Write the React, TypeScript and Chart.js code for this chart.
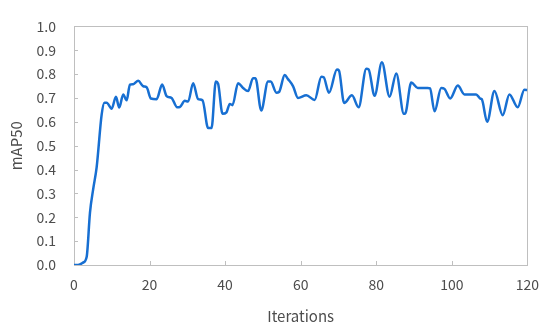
import React, { useEffect, useRef } from "react";
import { Chart, registerables } from "chart.js";

Chart.register(...registerables);

const iterations: number[] = [
  0, 1.06, 2.38, 3.36, 4.23, 5.1, 6.0, 7.32, 8.06, 8.64, 9.97, 11.1, 11.97, 13.03, 13.93,
  14.8, 15.68, 17.0, 18.32, 19.22, 20.35, 21.86, 23.34, 24.5, 25.83, 27.31, 28.02, 29.34,
  30.21, 31.54, 32.86, 34.02, 35.5, 36.4, 37.54, 38.14, 39.31, 40.36, 41.24, 41.95, 43.43,
  44.75, 46.07, 47.4, 48.03, 49.56, 51.36, 52.07, 53.58, 54.27, 55.78, 56.65, 57.97, 59.29,
  61.51, 63.71, 65.48, 66.09, 67.49, 69.6, 70.13, 71.5, 73.57, 75.34, 77.37, 77.98, 79.57,
  81.5, 83.53, 85.3, 87.31, 87.63, 89.27, 91.01, 93.58, 94.24, 95.43, 97.2, 98.07, 99.58,
  101.59, 103.36, 106.45, 107.58, 107.93, 109.36, 111.29, 113.48, 115.25, 117.45, 119.22, 120,
];

const mAP50: number[] = [
  0, 0, 0.01, 0.035, 0.22, 0.32, 0.41, 0.63, 0.68, 0.68, 0.655, 0.705, 0.66, 0.715, 0.69,
  0.756, 0.758, 0.772, 0.749, 0.745, 0.698, 0.695, 0.756, 0.708, 0.7, 0.661, 0.662, 0.688,
  0.685, 0.762, 0.695, 0.69, 0.574, 0.574, 0.769, 0.76, 0.634, 0.64, 0.675, 0.67, 0.762,
  0.742, 0.729, 0.783, 0.783, 0.648, 0.769, 0.769, 0.722, 0.725, 0.796, 0.779, 0.75, 0.7,
  0.711, 0.692, 0.789, 0.787, 0.722, 0.819, 0.815, 0.679, 0.711, 0.661, 0.823, 0.82, 0.709,
  0.85, 0.705, 0.803, 0.634, 0.634, 0.765, 0.742, 0.742, 0.74, 0.644, 0.742, 0.738, 0.698,
  0.752, 0.715, 0.715, 0.697, 0.695, 0.6, 0.729, 0.628, 0.715, 0.661, 0.735, 0.733,
];

const xTitle = "Iterations";
const yTitle = "mAP50";

const FONT = "'Noto Sans CJK SC', 'Noto Sans', sans-serif";
const FRAME = "#bfbfbf";
const TEXT = "#4d4d4d";
const LINE = "#176fd2";

const framePlugin = {
  id: "frame",
  beforeDatasetsDraw(chart: any) {
    const { ctx, chartArea, scales } = chart;
    const { left, top, right, bottom } = chartArea;
    ctx.save();
    ctx.strokeStyle = FRAME;
    ctx.lineWidth = 1;
    ctx.strokeRect(Math.round(left) + 0.5, Math.round(top) + 0.5, Math.round(right - left), Math.round(bottom - top));
    ctx.beginPath();
    scales.x.ticks.forEach((t: any) => {
      const px = Math.round(scales.x.getPixelForValue(t.value)) + 0.5;
      ctx.moveTo(px, bottom);
      ctx.lineTo(px, bottom - 4);
    });
    scales.y.ticks.forEach((t: any) => {
      const py = Math.round(scales.y.getPixelForValue(t.value)) + 0.5;
      ctx.moveTo(left, py);
      ctx.lineTo(left + 4, py);
    });
    ctx.stroke();
    ctx.restore();
  },
};

export default function App() {
  const ref = useRef<HTMLCanvasElement | null>(null);

  useEffect(() => {
    document.body.style.margin = "0";
    const canvas = ref.current;
    if (!canvas) return;
    const chart = new Chart(canvas, {
      type: "line",
      data: {
        datasets: [
          {
            data: iterations.map((x, i) => ({ x, y: mAP50[i] })),
            borderColor: LINE,
            borderWidth: 2.5,
            pointRadius: 0,
            cubicInterpolationMode: "monotone",
            fill: false,
          },
        ],
      },
      options: {
        animation: false,
        responsive: false,
        maintainAspectRatio: false,
        layout: { padding: { top: 18, right: 22, left: 0, bottom: 0 } },
        plugins: { legend: { display: false }, tooltip: { enabled: false } },
        scales: {
          x: {
            type: "linear",
            min: 0,
            max: 120,
            afterFit: (s: any) => {
              s.height = 67;
            },
            ticks: {
              stepSize: 20,
              color: TEXT,
              font: { family: FONT, size: 14 },
              padding: 11,
              maxRotation: 0,
            },
            grid: { display: false, drawTicks: false },
            border: { display: false },
            title: {
              display: true,
              text: xTitle,
              color: TEXT,
              font: { family: FONT, size: 15 },
              padding: { top: 6, bottom: 7 },
            },
          },
          y: {
            type: "linear",
            min: 0,
            max: 1,
            afterFit: (s: any) => {
              s.width = 74;
            },
            ticks: {
              stepSize: 0.1,
              color: TEXT,
              font: { family: FONT, size: 14 },
              padding: 18,
              callback: (v: any) => Number(v).toFixed(1),
            },
            grid: { display: false, drawTicks: false },
            border: { display: false },
            title: {
              display: true,
              text: yTitle,
              color: TEXT,
              font: { family: FONT, size: 15 },
              padding: { top: 7, bottom: 6 },
            },
          },
        },
      },
      plugins: [framePlugin],
    });
    return () => chart.destroy();
  }, []);

  return (
    <div style={{ width: 550, height: 332 }}>
      <canvas ref={ref} width={550} height={332} style={{ width: 550, height: 332 }} />
    </div>
  );
}
